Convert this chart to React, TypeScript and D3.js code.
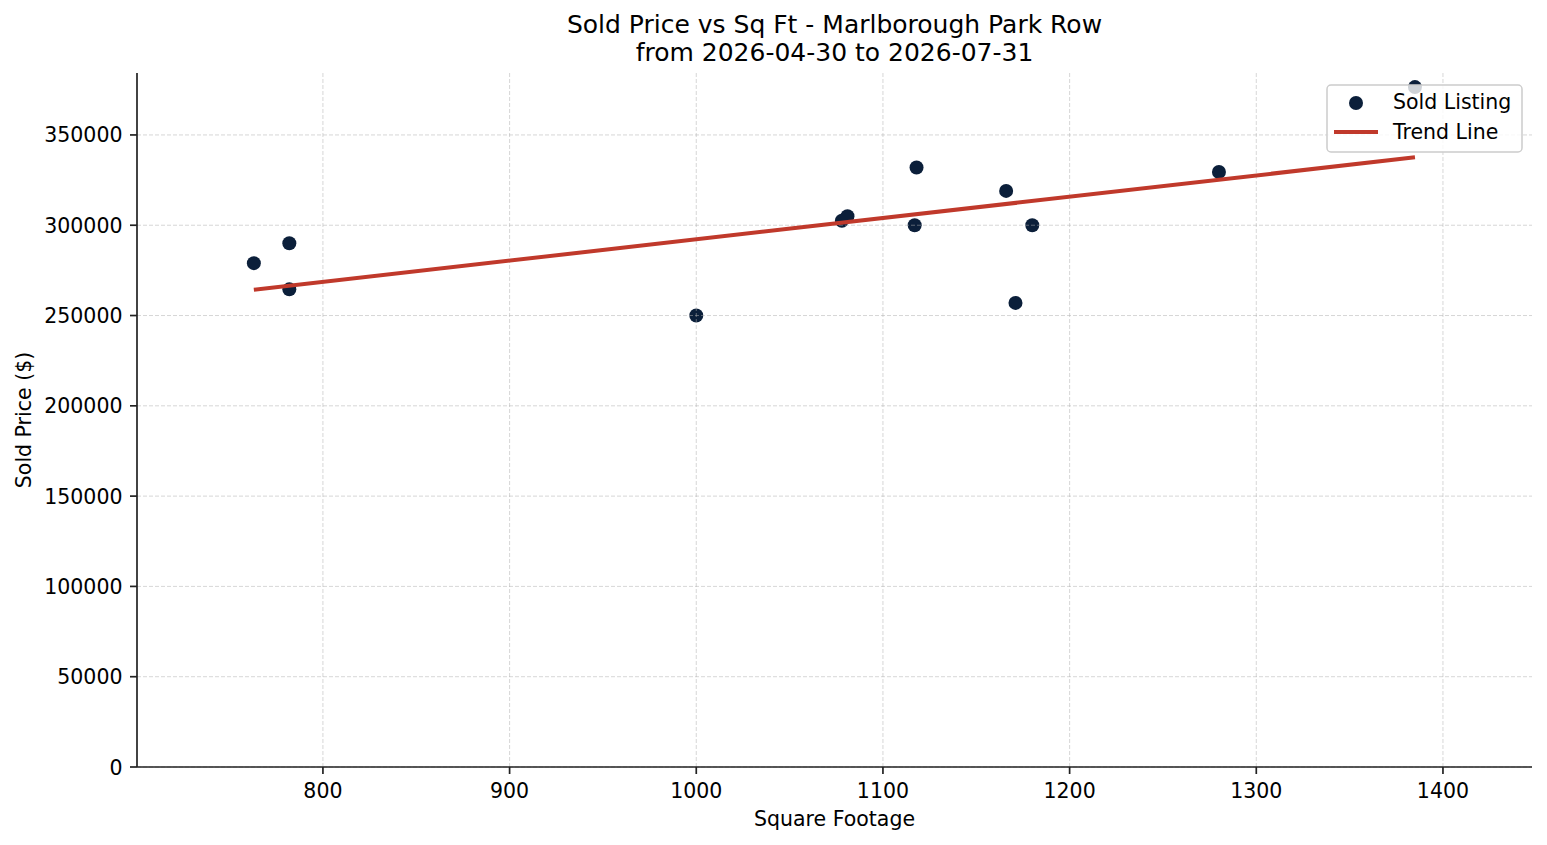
import React from "react";
import * as d3 from "d3";

const sqft = [763, 782, 782, 1000, 1078, 1081, 1118, 1117, 1166, 1171, 1180, 1280, 1385];
const price = [279000, 290000, 264500, 250000, 302500, 305000, 332000, 300000, 319000, 257000, 300000, 329500, 376500];
const xTicks = [800, 900, 1000, 1100, 1200, 1300, 1400];
const yTicks = [0, 50000, 100000, 150000, 200000, 250000, 300000, 350000];
const titleLines = ["Sold Price vs Sq Ft - Marlborough Park Row", "from 2026-04-30 to 2026-07-31"];

const W = 1547, H = 845;
const M = { left: 137, right: 1532, top: 73, bottom: 767 };
const FONT = "DejaVu Sans, sans-serif";
const NAVY = "#0b1f3a";
const RED = "#c0392b";
const FS = 20.5;

export default function App() {
  const x = d3.scaleLinear().domain([700.4, 1447.7]).range([M.left, M.right]);
  const y = d3.scaleLinear().domain([0, 384300]).range([M.bottom, M.top]);

  // least-squares trend line
  const mx = d3.mean(sqft)!;
  const my = d3.mean(price)!;
  let num = 0, den = 0;
  sqft.forEach((v, i) => { num += (v - mx) * (price[i] - my); den += (v - mx) * (v - mx); });
  const slope = num / den;
  const icpt = my - slope * mx;
  const x0 = d3.min(sqft)!, x1 = d3.max(sqft)!;
  const trend = [[x0, icpt + slope * x0], [x1, icpt + slope * x1]] as [number, number][];
  const line = d3.line<[number, number]>().x(d => x(d[0])).y(d => y(d[1]));

  return (
    <svg width={W} height={H} style={{ position: "absolute", left: 0, top: 0, background: "#fff" }} fontFamily={FONT}>
      <rect width={W} height={H} fill="#fff" />
      {/* points */}
      {sqft.map((v, i) => (
        <circle key={"p" + i} cx={x(v)} cy={y(price[i])} r={7} fill={NAVY} />
      ))}
      {/* grid */}
      {xTicks.map(t => (
        <line key={"gx" + t} x1={x(t)} x2={x(t)} y1={M.top} y2={M.bottom} stroke="#b0b0b0" strokeOpacity={0.5} strokeWidth={1} strokeDasharray="4,2" />
      ))}
      {yTicks.map(t => (
        <line key={"gy" + t} x1={M.left} x2={M.right} y1={y(t)} y2={y(t)} stroke="#b0b0b0" strokeOpacity={0.5} strokeWidth={1} strokeDasharray="4,2" />
      ))}
      {/* trend */}
      <path d={line(trend)!} stroke={RED} strokeWidth={4} fill="none" />
      {/* spines */}
      <line x1={M.left} x2={M.left} y1={M.top} y2={M.bottom} stroke="#222" strokeWidth={1.7} />
      <line x1={M.left} x2={M.right} y1={M.bottom} y2={M.bottom} stroke="#222" strokeWidth={1.7} />
      {/* x ticks */}
      {xTicks.map(t => (
        <g key={"xt" + t}>
          <line x1={x(t)} x2={x(t)} y1={M.bottom} y2={M.bottom + 7} stroke="#222" strokeWidth={1.7} />
          <text x={x(t)} y={M.bottom + 31} textAnchor="middle" fontSize={FS} fill="#000">{t}</text>
        </g>
      ))}
      {yTicks.map(t => (
        <g key={"yt" + t}>
          <line x1={M.left - 7} x2={M.left} y1={y(t)} y2={y(t)} stroke="#222" strokeWidth={1.7} />
          <text x={M.left - 14.5} y={y(t) + 7.5} textAnchor="end" fontSize={FS} fill="#000">{t}</text>
        </g>
      ))}
      {/* labels */}
      <text x={(M.left + M.right) / 2} y={826} textAnchor="middle" fontSize={FS} fill="#000">Square Footage</text>
      <text transform={`translate(31,${(M.top + M.bottom) / 2}) rotate(-90)`} textAnchor="middle" fontSize={FS} fill="#000">Sold Price ($)</text>
      {titleLines.map((t, i) => (
        <text key={"t" + i} x={(M.left + M.right) / 2} y={33 + i * 28} textAnchor="middle" fontSize={25} fill="#000">{t}</text>
      ))}
      {/* legend */}
      <g>
        <rect x={1327} y={85} width={195} height={67} rx={4} fill="#fff" fillOpacity={0.8} stroke="#cccccc" strokeWidth={1.5} />
        <circle cx={1356} cy={103} r={7} fill={NAVY} />
        <text x={1393} y={109} fontSize={FS} fill="#000">Sold Listing</text>
        <line x1={1334} x2={1378} y1={132} y2={132} stroke={RED} strokeWidth={4} />
        <text x={1393} y={139} fontSize={FS} fill="#000">Trend Line</text>
      </g>
    </svg>
  );
}
